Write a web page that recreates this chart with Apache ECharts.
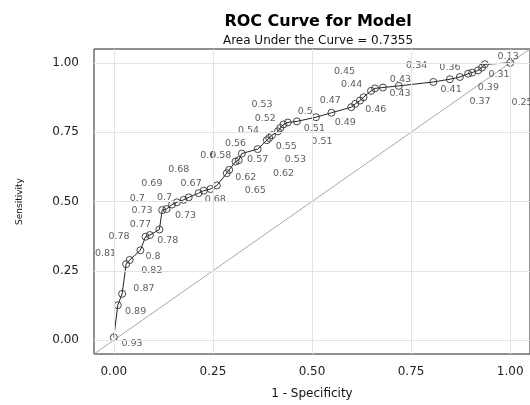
<!DOCTYPE html>
<html>
<head>
<meta charset="utf-8">
<script src="https://cdn.jsdelivr.net/npm/echarts@6/dist/echarts.min.js"></script>
<style>html,body{margin:0;padding:0;background:#fff}#c{width:530px;height:405px}</style>
</head>
<body>
<div id="c"></div>
<script>
// ROC points: 1 - specificity (FPR) and sensitivity (TPR)
const fpr = [0.0,0.010,0.021,0.031,0.040,0.067,0.080,0.091,0.115,0.122,0.133,0.147,0.159,0.176,0.189,0.214,0.227,0.244,0.260,0.285,0.291,0.307,0.315,0.323,0.363,0.386,0.392,0.399,0.414,0.420,0.428,0.439,0.462,0.510,0.549,0.599,0.609,0.621,0.630,0.649,0.659,0.679,0.719,0.806,0.848,0.873,0.894,0.904,0.919,0.929,0.936,1.0];
const tpr = [0.01,0.126,0.167,0.274,0.289,0.324,0.373,0.379,0.399,0.469,0.473,0.489,0.497,0.506,0.515,0.530,0.539,0.545,0.558,0.602,0.614,0.644,0.649,0.673,0.689,0.721,0.729,0.739,0.753,0.765,0.778,0.785,0.789,0.804,0.820,0.840,0.852,0.864,0.876,0.899,0.908,0.911,0.917,0.931,0.941,0.949,0.961,0.965,0.973,0.983,0.995,1.0];

// Cutoff labels and where they sit (data units)
const cutText = ['0.93','0.89','0.87','0.82','0.81','0.8','0.78','0.78','0.77','0.73','0.73','0.7','0.7','0.69','0.67','0.68','0.68','0.6','0.58','0.56','0.54','0.57','0.62','0.62','0.65','0.55','0.53','0.53','0.52','0.5','0.51','0.51','0.47','0.49','0.46','0.44','0.45','0.43','0.43','0.34','0.36','0.41','0.31','0.39','0.37','0.25','0.13'];
const cutX = [0.046,0.055,0.076,0.096,-0.021,0.099,0.013,0.136,0.067,0.071,0.181,0.059,0.128,0.096,0.195,0.164,0.256,0.237,0.270,0.307,0.340,0.363,0.333,0.428,0.357,0.435,0.458,0.374,0.382,0.483,0.506,0.525,0.546,0.584,0.661,0.600,0.582,0.723,0.722,0.764,0.848,0.851,0.972,0.945,0.924,1.030,0.995];
const cutY = [-0.014,0.104,0.185,0.251,0.313,0.301,0.373,0.358,0.417,0.469,0.449,0.510,0.515,0.566,0.566,0.616,0.506,0.666,0.666,0.709,0.755,0.652,0.586,0.602,0.539,0.699,0.653,0.849,0.798,0.826,0.763,0.715,0.864,0.786,0.831,0.923,0.967,0.941,0.890,0.991,0.983,0.905,0.959,0.911,0.860,0.858,1.024];

const diagX = [-0.05, 1.05];
const diagY = [-0.05, 1.05];
const gridVals = [0, 0.25, 0.5, 0.75, 1.0];

const chart = echarts.init(document.getElementById('c'));
const FONT = 'DejaVu Sans';
chart.setOption({
  animation: false,
  backgroundColor: '#fff',
  title: [
    {text: 'ROC Curve for Model', left: 313, top: 9, textAlign: 'center',
     textStyle: {fontFamily: FONT, fontSize: 16, fontWeight: 'bold', color: '#000'}},
    {text: 'Area Under the Curve = 0.7355', left: 313, top: 30, textAlign: 'center',
     textStyle: {fontFamily: FONT, fontSize: 12, fontWeight: 'normal', color: '#111'}}
  ],
  grid: {left: 94, top: 49, width: 438, height: 309, show: true, borderColor: '#222', borderWidth: 1, containLabel: false},
  xAxis: {
    type: 'value', min: -0.05, max: 1.05,
    name: '1 - Specificity', nameLocation: 'middle', nameGap: 34,
    nameTextStyle: {fontFamily: FONT, fontSize: 12, color: '#111'},
    axisLine: {show: false},
    splitLine: {show: false},
    axisTick: {show: true, length: 6, customValues: gridVals, lineStyle: {color: '#222'}},
    axisLabel: {customValues: gridVals, margin: 12, fontFamily: FONT, fontSize: 12, color: '#222',
      formatter: v => v.toFixed(2)}
  },
  yAxis: {
    type: 'value', min: -0.05, max: 1.05,
    name: 'Sensitivity', nameLocation: 'middle', nameGap: 70, nameRotate: 90,
    nameTextStyle: {fontFamily: FONT, fontSize: 9, color: '#111'},
    axisLine: {show: false},
    splitLine: {show: false},
    axisTick: {show: true, length: 8, customValues: gridVals, lineStyle: {color: '#222'}},
    axisLabel: {customValues: gridVals, margin: 15, fontFamily: FONT, fontSize: 12, color: '#222',
      formatter: v => v.toFixed(2)}
  },
  series: [
    {
      type: 'line', silent: true, symbol: 'none', data: [], z: 1,
      markLine: {
        silent: true, symbol: 'none', label: {show: false},
        lineStyle: {color: '#e3e3e3', width: 1, type: 'solid'},
        data: gridVals.map(v => ({xAxis: v})).concat(gridVals.map(v => ({yAxis: v})))
      }
    },
    {
      type: 'line', silent: true, symbol: 'none', z: 2,
      lineStyle: {color: '#a6a6a6', width: 1},
      data: diagX.map((x, i) => [x, diagY[i]])
    },
    {
      type: 'line', silent: true, z: 3,
      symbol: 'circle', symbolSize: 7, showAllSymbol: true,
      itemStyle: {color: 'rgba(0,0,0,0)', borderColor: '#333', borderWidth: 0.9},
      lineStyle: {color: '#222', width: 1},
      data: fpr.map((x, i) => [x, tpr[i]])
    },
    {
      type: 'scatter', silent: true, z: 4, symbolSize: 0,
      label: {show: true, position: 'inside', formatter: p => p.name,
        fontFamily: FONT, fontSize: 9.5, color: '#333'},
      data: cutText.map((t, i) => ({name: t, value: [cutX[i], cutY[i]]}))
    }
  ]
});
</script>
</body>
</html>
